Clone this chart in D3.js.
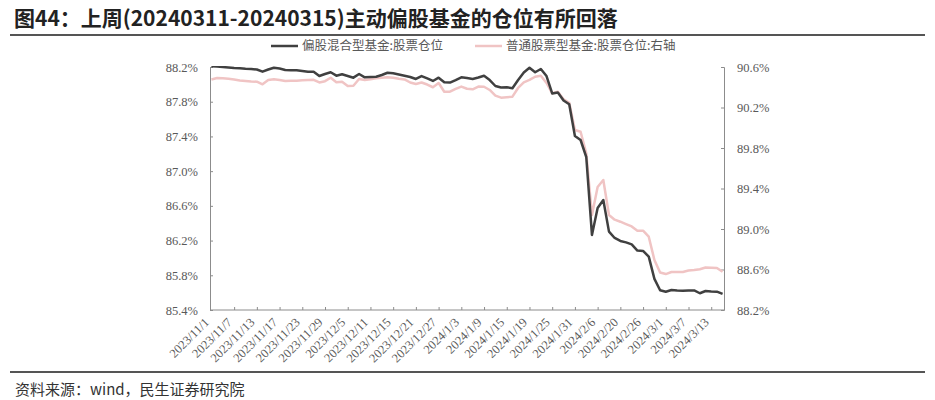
<!DOCTYPE html>
<html>
<head>
<meta charset="utf-8">
<script src="https://cdn.jsdelivr.net/npm/d3@7"></script>
<style>
  body { margin: 0; background: #fff; }
  svg { display: block; }
</style>
</head>
<body>
<svg width="935" height="400"></svg>
<script>
// trading days, 2023/11/1 .. 2024/3/15
const days = ("2023/11/1 2023/11/2 2023/11/3 2023/11/6 2023/11/7 2023/11/8 2023/11/9 2023/11/10 2023/11/13 2023/11/14 " +
  "2023/11/15 2023/11/16 2023/11/17 2023/11/20 2023/11/21 2023/11/22 2023/11/23 2023/11/24 2023/11/27 2023/11/28 " +
  "2023/11/29 2023/11/30 2023/12/1 2023/12/4 2023/12/5 2023/12/6 2023/12/7 2023/12/8 2023/12/11 2023/12/12 " +
  "2023/12/13 2023/12/14 2023/12/15 2023/12/18 2023/12/19 2023/12/20 2023/12/21 2023/12/22 2023/12/25 2023/12/26 " +
  "2023/12/27 2023/12/28 2023/12/29 2024/1/2 2024/1/3 2024/1/4 2024/1/5 2024/1/8 2024/1/9 2024/1/10 " +
  "2024/1/11 2024/1/12 2024/1/15 2024/1/16 2024/1/17 2024/1/18 2024/1/19 2024/1/22 2024/1/23 2024/1/24 " +
  "2024/1/25 2024/1/26 2024/1/29 2024/1/30 2024/1/31 2024/2/1 2024/2/2 2024/2/5 2024/2/6 2024/2/7 " +
  "2024/2/8 2024/2/19 2024/2/20 2024/2/21 2024/2/22 2024/2/23 2024/2/26 2024/2/27 2024/2/28 2024/2/29 " +
  "2024/3/1 2024/3/4 2024/3/5 2024/3/6 2024/3/7 2024/3/8 2024/3/11 2024/3/12 2024/3/13 2024/3/14 2024/3/15").split(" ");

// 偏股混合型基金:股票仓位 (%), left axis
const hybrid = [
  88.21, 88.206, 88.20, 88.194, 88.188, 88.185, 88.179, 88.177, 88.171, 88.146,
  88.171, 88.192, 88.183, 88.165, 88.163, 88.162, 88.154, 88.146, 88.146, 88.096,
  88.119, 88.139, 88.100, 88.116, 88.096, 88.077, 88.119, 88.081, 88.085, 88.088,
  88.108, 88.134, 88.127, 88.114, 88.100, 88.085, 88.062, 88.096, 88.068, 88.039,
  88.077, 88.024, 88.021, 88.050, 88.081, 88.073, 88.062, 88.079, 88.099, 88.050,
  87.981, 87.964, 87.966, 87.955, 88.050, 88.137, 88.192, 88.139, 88.177, 88.096,
  87.895, 87.906, 87.814, 87.770, 87.405, 87.359, 87.163, 86.265, 86.576, 86.668,
  86.303, 86.230, 86.196, 86.179, 86.156, 86.085, 86.080, 86.015, 85.758, 85.628,
  85.611, 85.631, 85.625, 85.623, 85.625, 85.625, 85.593, 85.619, 85.614, 85.611,
  85.585
];

// 普通股票型基金:股票仓位 (%), right axis
const stock = [
  90.477, 90.491, 90.488, 90.484, 90.477, 90.467, 90.462, 90.457, 90.455, 90.429,
  90.472, 90.480, 90.472, 90.462, 90.464, 90.465, 90.469, 90.472, 90.474, 90.447,
  90.460, 90.494, 90.449, 90.455, 90.412, 90.415, 90.481, 90.472, 90.480, 90.488,
  90.493, 90.498, 90.494, 90.483, 90.477, 90.447, 90.432, 90.447, 90.427, 90.400,
  90.442, 90.356, 90.356, 90.383, 90.407, 90.385, 90.380, 90.407, 90.405, 90.373,
  90.317, 90.297, 90.302, 90.307, 90.393, 90.449, 90.472, 90.504, 90.514, 90.442,
  90.340, 90.356, 90.281, 90.247, 89.978, 89.961, 89.748, 89.138, 89.415, 89.484,
  89.138, 89.092, 89.072, 89.049, 89.025, 88.983, 88.983, 88.924, 88.694, 88.570,
  88.555, 88.575, 88.575, 88.575, 88.590, 88.595, 88.602, 88.620, 88.618, 88.615,
  88.578
];

const leftTicks = [85.4, 85.8, 86.2, 86.6, 87.0, 87.4, 87.8, 88.2];
const rightTicks = [88.2, 88.6, 89.0, 89.4, 89.8, 90.2, 90.6];
const seriesNames = ["偏股混合型基金:股票仓位", "普通股票型基金:股票仓位:右轴"];
const title = "图44：上周(20240311-20240315)主动偏股基金的仓位有所回落";
const source = "资料来源：wind，民生证券研究院";

const svg = d3.select("svg");
const plotL = 210, plotR = 724, plotT = 67, plotB = 310;
const axisColor = "#8c8c8c", textColor = "#595959";
const numFont = "'Liberation Serif', 'Times New Roman', serif";
const cjkFont = "'Noto Sans CJK SC', 'Noto Sans', sans-serif";

const x = d3.scalePoint().domain(d3.range(days.length)).range([plotL, plotR]).padding(0.25);
const yL = d3.scaleLinear().domain([85.4, 88.2]).range([plotB, plotT]);
const yR = d3.scaleLinear().domain([88.2, 90.6]).range([plotB, plotT]);

// title + rules
svg.append("text")
  .attr("x", 14).attr("y", 26)
  .attr("font-family", cjkFont).attr("font-weight", 700).attr("font-size", 21)
  .attr("fill", "#222")
  .text(title);
svg.append("line").attr("x1", 10).attr("x2", 925).attr("y1", 35).attr("y2", 35)
  .attr("stroke", "#555").attr("stroke-width", 2);
svg.append("line").attr("x1", 10).attr("x2", 925).attr("y1", 372).attr("y2", 372)
  .attr("stroke", "#555").attr("stroke-width", 2);
svg.append("text")
  .attr("x", 15).attr("y", 395)
  .attr("font-family", cjkFont).attr("font-size", 15)
  .attr("fill", "#333")
  .text(source);

// legend
const legend = [
  {name: seriesNames[0], color: "#404040", x: 271},
  {name: seriesNames[1], color: "#f0c4c4", x: 475}
];
legend.forEach(d => {
  svg.append("line").attr("x1", d.x).attr("x2", d.x + 27).attr("y1", 46).attr("y2", 46)
    .attr("stroke", d.color).attr("stroke-width", 2.5);
  svg.append("text").attr("x", d.x + 31).attr("y", 46).attr("dy", "0.35em")
    .attr("font-family", cjkFont).attr("font-size", 12.5).attr("fill", textColor)
    .text(d.name);
});

// axes
const gL = svg.append("g").attr("transform", `translate(${plotL},0)`)
  .call(d3.axisRight(yL).tickValues(leftTicks).tickSize(3).tickFormat(d => d.toFixed(1) + "%"));
gL.selectAll("text").attr("x", -12).attr("text-anchor", "end");

const gR = svg.append("g").attr("transform", `translate(${plotR},0)`)
  .call(d3.axisLeft(yR).tickValues(rightTicks).tickSize(3).tickFormat(d => d.toFixed(1) + "%"));
gR.selectAll("text").attr("x", 13).attr("text-anchor", "start");

const gX = svg.append("g").attr("transform", `translate(0,${plotB})`)
  .call(d3.axisTop(x).tickValues(d3.range(0, days.length, 4)).tickSize(3).tickFormat(i => days[i]));
gX.select(".domain").attr("d", `M${plotL},0H${plotR}`);
gX.selectAll(".tick").filter(i => i === 0).select("line").remove();
gX.selectAll("text")
  .attr("y", 0).attr("dy", 0)
  .attr("text-anchor", "end")
  .attr("transform", "translate(-2,13) rotate(-45)");

[gL, gR, gX].forEach(g => {
  g.select(".domain").attr("stroke", axisColor);
  g.selectAll(".tick line").attr("stroke", axisColor);
  g.selectAll("text").attr("font-family", numFont).attr("font-size", 12.5).attr("fill", textColor);
});
gX.selectAll("text").attr("font-size", 12.5);

// lines
svg.append("clipPath").attr("id", "plot")
  .append("rect").attr("x", plotL).attr("y", plotT - 1).attr("width", plotR - plotL).attr("height", plotB - plotT + 1);

svg.append("path")
  .datum(stock)
  .attr("clip-path", "url(#plot)")
  .attr("fill", "none").attr("stroke", "#f0c4c4").attr("stroke-width", 2.5)
  .attr("stroke-linejoin", "round")
  .attr("d", d3.line().x((d, i) => x(i)).y(d => yR(d)));

svg.append("path")
  .datum(hybrid)
  .attr("clip-path", "url(#plot)")
  .attr("fill", "none").attr("stroke", "#404040").attr("stroke-width", 2.5)
  .attr("stroke-linejoin", "round")
  .attr("d", d3.line().x((d, i) => x(i)).y(d => yL(d)));
</script>
</body>
</html>
